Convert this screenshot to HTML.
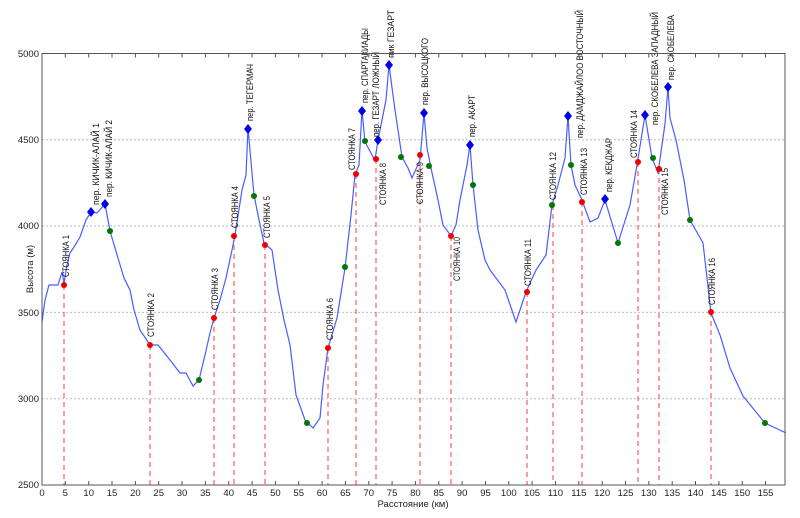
<!DOCTYPE html>
<html><head><meta charset="utf-8"><style>
html,body{margin:0;padding:0;background:#fff;}
svg{display:block;font-family:"Liberation Sans","DejaVu Sans",sans-serif;}
</style></head><body>
<svg width="800" height="518" viewBox="0 0 800 518" xmlns="http://www.w3.org/2000/svg">
<rect width="800" height="518" fill="#fff"/>
<g stroke="#bbb" stroke-width="1" stroke-dasharray="2,2">
<line x1="42" x2="785" y1="139.8" y2="139.8"/>
<line x1="42" x2="785" y1="226" y2="226"/>
<line x1="42" x2="785" y1="312.4" y2="312.4"/>
<line x1="42" x2="785" y1="398.7" y2="398.7"/>
</g>
<g stroke="#ff4040" stroke-width="1.2" stroke-dasharray="5,4" opacity="0.85">
<line x1="64" x2="64" y1="285" y2="485"/>
<line x1="150" x2="150" y1="345" y2="485"/>
<line x1="214" x2="214" y1="318" y2="485"/>
<line x1="234" x2="234" y1="236" y2="485"/>
<line x1="265" x2="265" y1="245" y2="485"/>
<line x1="328" x2="328" y1="348" y2="485"/>
<line x1="356" x2="356" y1="174" y2="485"/>
<line x1="376" x2="376" y1="159" y2="485"/>
<line x1="420" x2="420" y1="155" y2="485"/>
<line x1="451" x2="451" y1="236" y2="485"/>
<line x1="527" x2="527" y1="292" y2="485"/>
<line x1="553" x2="553" y1="205" y2="485"/>
<line x1="582" x2="582" y1="202" y2="485"/>
<line x1="638" x2="638" y1="162" y2="485"/>
<line x1="659" x2="659" y1="169" y2="485"/>
<line x1="711" x2="711" y1="312" y2="485"/>
</g>
<polyline fill="none" stroke="#4a5cff" stroke-width="1.2" points="42,322 45,300 49,285 58,285 62,272 64,283 67,265 70,253 74,247 80,237 86,220 91,212 97,213 105,204 110,231 118,258 124,278 130,290 134,310 140,330 150,345 158,345 170,360 180,373 186,373 193,386 199,380 205,355 210,333 214,318 220,300 226,278 232,250 235,235 242,190 246,175 248,128 254,195 258,215 264,243 272,250 278,290 284,320 290,345 296,395 305,420 313,428 320,418 323,385 328,348 337,318 345,268 351,215 355,175 359,165 362,110 365,142 372,155 375,160 378,140 382,120 386,100 389,65 395,110 402,157 408,168 412,178 420,160 424,113 427,148 431,168 438,200 443,225 451,236 456,225 460,200 467,165 470,145 473,185 478,230 485,260 490,270 505,290 516,322 526,292 536,270 546,255 552,205 558,185 565,158 568,116 571,165 575,185 582,200 590,222 598,218 605,200 618,243 630,205 637,165 645,115 652,158 658,173 665,124 668,87 670,118 676,140 684,180 690,220 703,243 711,313 720,335 730,368 743,396 765,423 786,433"/>
<g fill="#0000ee">
<path d="M91,207l4,5l-4,5l-4,-5z"/><path d="M105,199l4,5l-4,5l-4,-5z"/><path d="M248,124l4,5l-4,5l-4,-5z"/>
<path d="M362,106l4,5l-4,5l-4,-5z"/><path d="M378,135l4,5l-4,5l-4,-5z"/><path d="M389,60l4,5l-4,5l-4,-5z"/>
<path d="M424,108l4,5l-4,5l-4,-5z"/><path d="M470,140l4,5l-4,5l-4,-5z"/><path d="M568,111l4,5l-4,5l-4,-5z"/>
<path d="M605,194l4,5l-4,5l-4,-5z"/><path d="M645,110l4,5l-4,5l-4,-5z"/><path d="M668,82l4,5l-4,5l-4,-5z"/>
</g>
<g fill="#ee0000">
<circle cx="64" cy="285" r="3"/><circle cx="150" cy="345" r="3"/><circle cx="214" cy="318" r="3"/><circle cx="234" cy="236" r="3"/>
<circle cx="265" cy="245" r="3"/><circle cx="328" cy="348" r="3"/><circle cx="356" cy="174" r="3"/><circle cx="376" cy="159" r="3"/>
<circle cx="420" cy="155" r="3"/><circle cx="451" cy="236" r="3"/><circle cx="527" cy="292" r="3"/><circle cx="582" cy="202" r="3"/>
<circle cx="638" cy="162" r="3"/><circle cx="659" cy="169" r="3"/><circle cx="711" cy="312" r="3"/>
</g>
<g fill="#007700">
<circle cx="110" cy="231" r="3"/><circle cx="199" cy="380" r="3"/><circle cx="254" cy="196" r="3"/><circle cx="307" cy="423" r="3"/>
<circle cx="345" cy="267" r="3"/><circle cx="365" cy="141" r="3"/><circle cx="401" cy="157" r="3"/><circle cx="429" cy="166" r="3"/>
<circle cx="473" cy="185" r="3"/><circle cx="552" cy="205" r="3"/><circle cx="571" cy="165" r="3"/><circle cx="618" cy="243" r="3"/>
<circle cx="653" cy="158" r="3"/><circle cx="690" cy="220" r="3"/><circle cx="765" cy="423" r="3"/>
</g>
<g font-size="9" fill="#111">
<text transform="translate(69,277) rotate(-90)" textLength="42" lengthAdjust="spacingAndGlyphs">СТОЯНКА 1</text>
<text transform="translate(99,205) rotate(-90)" textLength="82" lengthAdjust="spacingAndGlyphs">пер. КИЧИК-АЛАЙ 1</text>
<text transform="translate(112,197) rotate(-90)" textLength="77" lengthAdjust="spacingAndGlyphs">пер. КИЧИК-АЛАЙ 2</text>
<text transform="translate(154,337) rotate(-90)" textLength="44" lengthAdjust="spacingAndGlyphs">СТОЯНКА 2</text>
<text transform="translate(218,310) rotate(-90)" textLength="42" lengthAdjust="spacingAndGlyphs">СТОЯНКА 3</text>
<text transform="translate(238,228) rotate(-90)" textLength="42" lengthAdjust="spacingAndGlyphs">СТОЯНКА 4</text>
<text transform="translate(253,121) rotate(-90)" textLength="57" lengthAdjust="spacingAndGlyphs">пер. ТЕГЕРМАЧ</text>
<text transform="translate(270,238) rotate(-90)" textLength="42" lengthAdjust="spacingAndGlyphs">СТОЯНКА 5</text>
<text transform="translate(333,340) rotate(-90)" textLength="42" lengthAdjust="spacingAndGlyphs">СТОЯНКА 6</text>
<text transform="translate(355,170) rotate(-90)" textLength="42" lengthAdjust="spacingAndGlyphs">СТОЯНКА 7</text>
<text transform="translate(368,103) rotate(-90)" textLength="75" lengthAdjust="spacingAndGlyphs">пер. СПАРТАКИАДЫ</text>
<text transform="translate(379,137) rotate(-90)" textLength="85" lengthAdjust="spacingAndGlyphs">пер. ГЕЗАРТ ЛОЖНЫЙ</text>
<text transform="translate(394,58) rotate(-90)" textLength="48" lengthAdjust="spacingAndGlyphs">пик ГЕЗАРТ</text>
<text transform="translate(386,205) rotate(-90)" textLength="42" lengthAdjust="spacingAndGlyphs">СТОЯНКА 8</text>
<text transform="translate(428,105) rotate(-90)" textLength="67" lengthAdjust="spacingAndGlyphs">пер. ВЫСОЦКОГО</text>
<text transform="translate(423,204) rotate(-90)" textLength="42" lengthAdjust="spacingAndGlyphs">СТОЯНКА 9</text>
<text transform="translate(475,137) rotate(-90)" textLength="42" lengthAdjust="spacingAndGlyphs">пер. АКАРТ</text>
<text transform="translate(460,281) rotate(-90)" textLength="44" lengthAdjust="spacingAndGlyphs">СТОЯНКА 10</text>
<text transform="translate(531,286) rotate(-90)" textLength="47" lengthAdjust="spacingAndGlyphs">СТОЯНКА 11</text>
<text transform="translate(556,200) rotate(-90)" textLength="48" lengthAdjust="spacingAndGlyphs">СТОЯНКА 12</text>
<text transform="translate(583,138) rotate(-90)" textLength="128" lengthAdjust="spacingAndGlyphs">пер. ДАМДЖАЙЛОО ВОСТОЧНЫЙ</text>
<text transform="translate(587,195) rotate(-90)" textLength="47" lengthAdjust="spacingAndGlyphs">СТОЯНКА 13</text>
<text transform="translate(612,192) rotate(-90)" textLength="54" lengthAdjust="spacingAndGlyphs">пер. КЕКДЖАР</text>
<text transform="translate(637,158) rotate(-90)" textLength="48" lengthAdjust="spacingAndGlyphs">СТОЯНКА 14</text>
<text transform="translate(658,125) rotate(-90)" textLength="113" lengthAdjust="spacingAndGlyphs">пер. СКОБЕЛЕВА ЗАПАДНЫЙ</text>
<text transform="translate(674,80) rotate(-90)" textLength="65" lengthAdjust="spacingAndGlyphs">пер. СКОБЕЛЕВА</text>
<text transform="translate(668,215) rotate(-90)" textLength="47" lengthAdjust="spacingAndGlyphs">СТОЯНКА 15</text>
<text transform="translate(715,305) rotate(-90)" textLength="47" lengthAdjust="spacingAndGlyphs">СТОЯНКА 16</text>
</g>
<rect x="42" y="53.5" width="743" height="431.5" fill="none" stroke="#555" stroke-width="1"/>
<g stroke="#555" stroke-width="1">
<path d="M65.3,485v-4M88.7,485v-4M112,485v-4M135.4,485v-4M158.7,485v-4M182,485v-4M205.4,485v-4M228.7,485v-4M252.1,485v-4M275.4,485v-4M298.7,485v-4M322.1,485v-4M345.4,485v-4M368.8,485v-4M392.1,485v-4M415.4,485v-4M438.8,485v-4M462.1,485v-4M485.5,485v-4M508.8,485v-4M532.1,485v-4M555.5,485v-4M578.8,485v-4M602.2,485v-4M625.5,485v-4M648.8,485v-4M672.2,485v-4M695.5,485v-4M718.9,485v-4M742.2,485v-4M765.5,485v-4"/>
<path d="M65.3,53.5v4M88.7,53.5v4M112,53.5v4M135.4,53.5v4M158.7,53.5v4M182,53.5v4M205.4,53.5v4M228.7,53.5v4M252.1,53.5v4M275.4,53.5v4M298.7,53.5v4M322.1,53.5v4M345.4,53.5v4M368.8,53.5v4M392.1,53.5v4M415.4,53.5v4M438.8,53.5v4M462.1,53.5v4M485.5,53.5v4M508.8,53.5v4M532.1,53.5v4M555.5,53.5v4M578.8,53.5v4M602.2,53.5v4M625.5,53.5v4M648.8,53.5v4M672.2,53.5v4M695.5,53.5v4M718.9,53.5v4M742.2,53.5v4M765.5,53.5v4"/>
</g>
<g font-size="9.5" fill="#222" text-anchor="middle">
<text x="42" y="496">0</text><text x="65.3" y="496">5</text><text x="88.7" y="496">10</text><text x="112" y="496">15</text><text x="135.4" y="496">20</text><text x="158.7" y="496">25</text><text x="182" y="496">30</text><text x="205.4" y="496">35</text><text x="228.7" y="496">40</text><text x="252.1" y="496">45</text><text x="275.4" y="496">50</text><text x="298.7" y="496">55</text><text x="322.1" y="496">60</text><text x="345.4" y="496">65</text><text x="368.8" y="496">70</text><text x="392.1" y="496">75</text><text x="415.4" y="496">80</text><text x="438.8" y="496">85</text><text x="462.1" y="496">90</text><text x="485.5" y="496">95</text><text x="508.8" y="496">100</text><text x="532.1" y="496">105</text><text x="555.5" y="496">110</text><text x="578.8" y="496">115</text><text x="602.2" y="496">120</text><text x="625.5" y="496">125</text><text x="648.8" y="496">130</text><text x="672.2" y="496">135</text><text x="695.5" y="496">140</text><text x="718.9" y="496">145</text><text x="742.2" y="496">150</text><text x="765.5" y="496">155</text>
<text x="413" y="507">Расстояние (км)</text>
<text transform="translate(33,269) rotate(-90)">Высота (м)</text>
</g>
<g font-size="9.5" fill="#222" text-anchor="end">
<text x="39" y="57">5000</text><text x="39" y="143">4500</text><text x="39" y="229">4000</text><text x="39" y="316">3500</text><text x="39" y="402">3000</text><text x="39" y="488">2500</text>
</g>
</svg>
</body></html>
